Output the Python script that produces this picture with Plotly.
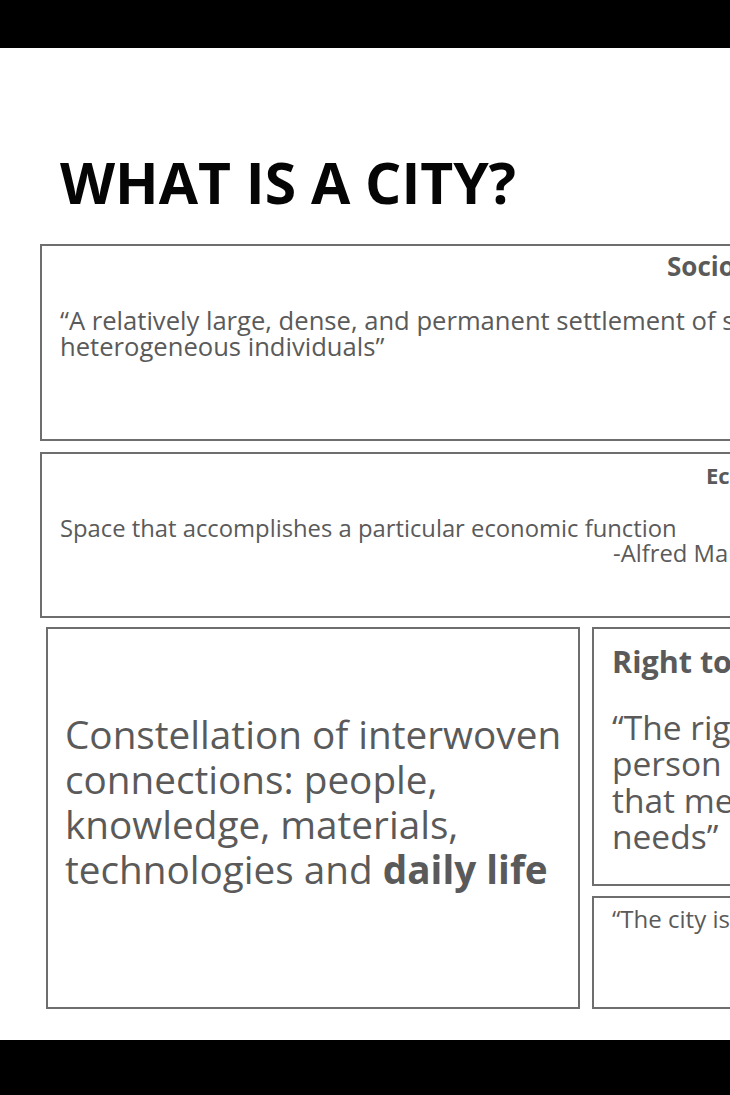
import plotly.graph_objects as go

# slide text
title = "WHAT IS A CITY?"
socio_header = "Sociological"
socio_quote = ["“A relatively large, dense, and permanent settlement of socially",
               "heterogeneous individuals”"]
econ_header = "Economic"
econ_text = "Space that accomplishes a particular economic function"
econ_author = "-Alfred Marshall"
network_lines = ["Constellation of interwoven",
                 "connections: people,",
                 "knowledge, materials,",
                 "technologies and <b>daily life</b>"]
right_header = "Right to the city"
right_quote = ["“The right of every",
               "person to live in a city",
               "that meets their",
               "needs”"]
city_quote = "“The city is"

W, H = 730, 1095
FONT = "Open Sans"
TEXT = "#5a5a5a"
EDGE = "#6e6e6e"

fig = go.Figure()

# black bands of the screen capture
for y0, y1 in [(0, 48), (1040, H)]:
    fig.add_shape(type="rect", x0=0, x1=W, y0=y0, y1=y1,
                  fillcolor="black", line_width=0, layer="below")

# the five boxes (three of them run off the right edge)
boxes = [(41, 245, 770, 440), (41, 453, 770, 617), (47, 628, 579, 1008),
         (593, 628, 770, 885), (593, 897, 770, 1008)]
for x0, y0, x1, y1 in boxes:
    fig.add_shape(type="rect", x0=x0, x1=x1, y0=y0, y1=y1,
                  line=dict(color=EDGE, width=2), fillcolor="rgba(0,0,0,0)")


def add_text(text, x, y, size, color=TEXT, weight="normal"):
    fig.add_annotation(x=x, y=y, text=text, showarrow=False,
                       xanchor="left", yanchor="middle",
                       font=dict(family=FONT, size=size, color=color, weight=weight))


def add_lines(lines, x, y, step, size):
    for i, line in enumerate(lines):
        add_text(line, x, y + i * step, size)


add_text(title, 58, 182, 57, color="#050505", weight="bold")

add_text(socio_header, 665, 266, 26, weight="bold")
add_lines(socio_quote, 58, 320.5, 26, 25.6)

add_text(econ_header, 704, 474.5, 22, weight="bold")
add_text(econ_text, 58, 527.5, 23.8)
add_text(econ_author, 611, 552.5, 23.8)

add_lines(network_lines, 63, 734, 45, 38.7)

add_text(right_header, 610, 661, 30.5, weight="bold")
add_lines(right_quote, 610, 726.5, 36.5, 33.5)

add_text(city_quote, 610, 918, 24)

fig.update_xaxes(range=[0, W], visible=False)
fig.update_yaxes(range=[H, 0], visible=False)
fig.update_layout(
    width=W, height=H,
    margin=dict(l=0, r=0, t=0, b=0),
    paper_bgcolor="white",
    plot_bgcolor="white",
    showlegend=False,
)

fig.write_html("out.html", config={"displayModeBar": False},
               post_script="document.body.style.margin='0';")
